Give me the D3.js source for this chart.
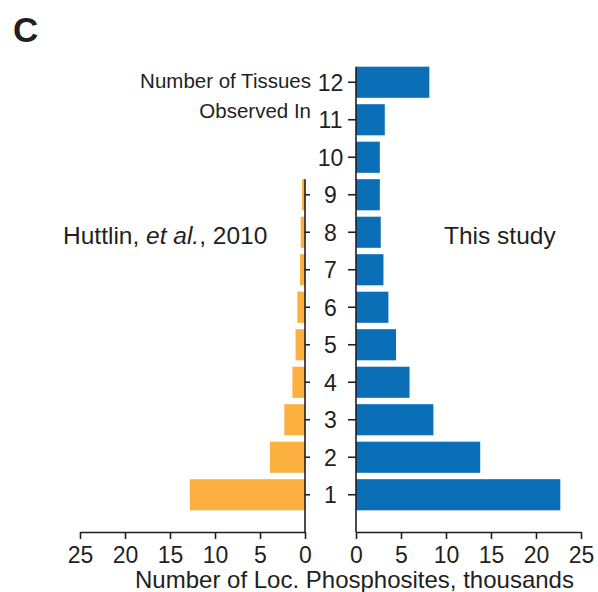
<!DOCTYPE html>
<html>
<head>
<meta charset="utf-8">
<script src="https://cdn.jsdelivr.net/npm/d3@7"></script>
<style>
  body { margin: 0; background: #fff; }
  text { font-family: "Liberation Sans", Arial, sans-serif; fill: #231f20; }
</style>
</head>
<body>
<svg id="chart" width="598" height="592"></svg>
<script>
// number of tissues a phosphosite was observed in
const tissues = [12, 11, 10, 9, 8, 7, 6, 5, 4, 3, 2, 1];
// this study, thousands of localized phosphosites
const thisStudy = [8.15, 3.2, 2.65, 2.65, 2.75, 3.05, 3.6, 4.45, 5.95, 8.6, 13.8, 22.7];
// Huttlin et al. 2010 only covers 1..9 tissues
const huttlinTissues = [9, 8, 7, 6, 5, 4, 3, 2, 1];
const huttlin = [0.33, 0.48, 0.55, 0.85, 1.05, 1.4, 2.3, 3.9, 12.8];
const xTicks = [0, 5, 10, 15, 20, 25];

const svg = d3.select("#chart");
const ink = "#231f20",
      blue = "#0b6fb8",
      orange = "#fbb040";

const axisY = 532;
const leftZero = 305, rightZero = 356;

const y = d3.scaleBand()
    .domain(tissues)
    .range([63.5, 513.5])
    .paddingInner(0.17)
    .paddingOuter(0.085);

const xL = d3.scaleLinear().domain([0, 25]).range([leftZero, 80]);
const xR = d3.scaleLinear().domain([0, 25]).range([rightZero, 581]);

// bars - this study
svg.append("g").selectAll("rect")
    .data(tissues.map((t, i) => ({t: t, v: thisStudy[i]})))
    .enter().append("rect")
    .attr("x", xR(0))
    .attr("y", d => y(d.t))
    .attr("width", d => xR(d.v) - xR(0))
    .attr("height", y.bandwidth())
    .attr("fill", blue);

// bars - huttlin
svg.append("g").selectAll("rect")
    .data(huttlinTissues.map((t, i) => ({t: t, v: huttlin[i]})))
    .enter().append("rect")
    .attr("x", d => xL(d.v))
    .attr("y", d => y(d.t))
    .attr("width", d => xL(0) - xL(d.v))
    .attr("height", y.bandwidth())
    .attr("fill", orange);

// vertical axes (ticks only, lines drawn by hand so they reach the x axis)
const gR = svg.append("g")
    .attr("transform", `translate(${rightZero},0)`)
    .call(d3.axisLeft(y).tickSize(8).tickFormat(""));
gR.select(".domain").remove();
gR.append("line")
    .attr("y1", y(12)).attr("y2", axisY)
    .attr("stroke", ink).attr("stroke-width", 1.6);

const gL = svg.append("g")
    .attr("transform", `translate(${leftZero},0)`)
    .call(d3.axisRight(y).tickValues(huttlinTissues).tickSize(5).tickFormat(""));
gL.select(".domain").remove();
gL.append("line")
    .attr("y1", y(9)).attr("y2", axisY)
    .attr("stroke", ink).attr("stroke-width", 1.6);

svg.selectAll(".tick line").attr("stroke", ink).attr("stroke-width", 1.6);

// category labels between the two halves
svg.append("g").selectAll("text")
    .data(tissues)
    .enter().append("text")
    .attr("x", 330.5)
    .attr("y", d => y(d) + y.bandwidth() / 2)
    .attr("dy", "0.36em")
    .attr("text-anchor", "middle")
    .style("font-size", "23px")
    .text(d => d);

// bottom axes
function styleAxis(g) {
    g.select(".domain").attr("stroke", ink).attr("stroke-width", 1.6);
    g.selectAll(".tick line").attr("stroke", ink).attr("stroke-width", 1.6);
    g.selectAll(".tick text").style("font-size", "23px").attr("fill", ink)
        .style("font-family", "'Liberation Sans', Arial, sans-serif");
}
svg.append("g")
    .attr("transform", `translate(0,${axisY})`)
    .call(d3.axisBottom(xL).tickValues(xTicks).tickSize(7).tickSizeOuter(0).tickPadding(8))
    .call(styleAxis);
svg.append("g")
    .attr("transform", `translate(0,${axisY})`)
    .call(d3.axisBottom(xR).tickValues(xTicks).tickSize(7).tickSizeOuter(0).tickPadding(8))
    .call(styleAxis);

// text
svg.append("text").attr("x", 13).attr("y", 42)
    .style("font-size", "35px").style("font-weight", "bold").text("C");

svg.append("text").attr("x", 311).attr("y", 88).attr("text-anchor", "end")
    .style("font-size", "20.5px").text("Number of Tissues");
svg.append("text").attr("x", 311).attr("y", 118).attr("text-anchor", "end")
    .style("font-size", "20.5px").text("Observed In");

const hut = svg.append("text").attr("x", 63).attr("y", 244).style("font-size", "24.5px");
hut.append("tspan").text("Huttlin, ");
hut.append("tspan").style("font-style", "italic").text("et al.");
hut.append("tspan").text(", 2010");

svg.append("text").attr("x", 444).attr("y", 244)
    .style("font-size", "24.5px").text("This study");

svg.append("text").attr("x", 354.5).attr("y", 588).attr("text-anchor", "middle")
    .style("font-size", "24px").text("Number of Loc. Phosphosites, thousands");
</script>
</body>
</html>
